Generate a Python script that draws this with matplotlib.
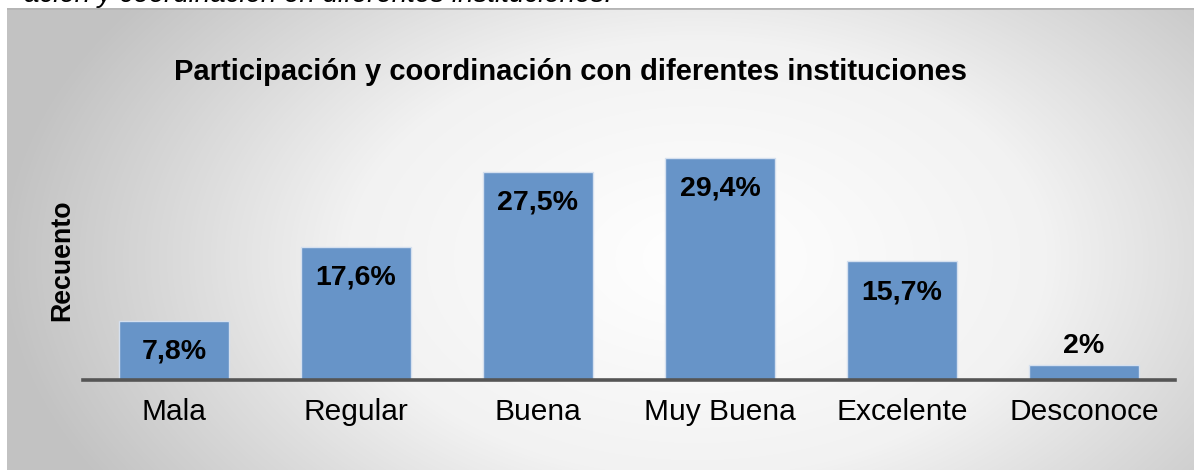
import numpy as np
import matplotlib
matplotlib.use("Agg")
import matplotlib.pyplot as plt
from matplotlib.colors import LinearSegmentedColormap

plt.rcParams['font.family'] = ['Liberation Sans', 'DejaVu Sans']

# Valores del gráfico
categorias = ['Mala', 'Regular', 'Buena', 'Muy Buena', 'Excelente', 'Desconoce']
porcentajes = [7.8, 17.6, 27.5, 29.4, 15.7, 2.0]
etiquetas = ['7,8%', '17,6%', '27,5%', '29,4%', '15,7%', '2%']

W, H = 1194, 470
fig = plt.figure(figsize=(W / 100, H / 100), dpi=100)
fig.patch.set_facecolor('white')

# fondo del recuadro con degradado radial
bx0, by_top = 7, 8
ax_bg = fig.add_axes([bx0 / W, 0, 1 - bx0 / W, (H - by_top) / H])
ax_bg.set_axis_off()
yy, xx = np.mgrid[0:H - by_top, 0:W - bx0]
cx, cy = 690, 250
r = np.sqrt(((xx - cx) / 1.0) ** 2 + ((yy - cy) * 1.6) ** 2)
r = np.clip(r / 700, 0, 1)
cmap = LinearSegmentedColormap.from_list('grad', ['#ffffff', '#f2f2f2', '#c2c2c2'])
ax_bg.imshow(r, cmap=cmap, aspect='auto', interpolation='bilinear', vmin=0, vmax=1)
ax_bg.axhline(-0.5, color='#b5b5b5', lw=2)

# texto del documento cortado arriba
fig.text(612 / W, 1 - 2 / H, 'ación y coordinación en diferentes instituciones.',
         ha='right', va='baseline', fontsize=20, style='italic', color='black')

# área de las barras
ax = fig.add_axes([83 / W, 90 / H, 1092 / W, 280 / H])
ax.patch.set_alpha(0)
x = np.arange(len(categorias))
bars = ax.bar(x, porcentajes, width=0.604, color='#6794c8', edgecolor='#d5e0ef', linewidth=1)
ax.set_xlim(-0.5, len(categorias) - 0.5)
ax.set_ylim(0, 280 / 7.55)

for s in ['top', 'right', 'left']:
    ax.spines[s].set_visible(False)
ax.spines['bottom'].set_color('#555555')
ax.spines['bottom'].set_linewidth(2.6)
ax.set_yticks([])
ax.set_xticks(x)
ax.set_xticklabels(categorias, fontsize=21.5)
ax.tick_params(axis='x', length=0, pad=13)

for b, v, t in zip(bars, porcentajes, etiquetas):
    xc = b.get_x() + b.get_width() / 2
    if v < 5:
        ax.annotate(t, (xc, v), xytext=(0, 4), textcoords='offset points',
                    ha='center', va='bottom', fontsize=20.5, fontweight='bold')
    else:
        ax.annotate(t, (xc, v), xytext=(0, -22), textcoords='offset points',
                    ha='center', va='center', fontsize=20.5, fontweight='bold')

fig.text(62 / W, 1 - 260 / H, 'Recuento', rotation=90, ha='center', va='center',
         fontsize=19.3, fontweight='bold')
fig.text(571 / W, 1 - 80 / H, 'Participación y coordinación con diferentes instituciones',
         ha='center', va='baseline', fontsize=21, fontweight='bold')

fig.savefig('out.png', dpi=100)
